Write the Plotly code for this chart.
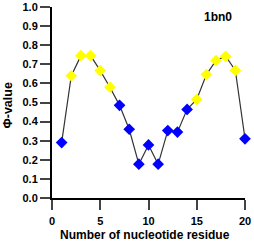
import plotly.graph_objects as go

residues = list(range(1, 21))
phi_values = [0.29, 0.64, 0.745, 0.745, 0.667, 0.58, 0.485, 0.36, 0.177, 0.278,
              0.177, 0.353, 0.345, 0.464, 0.516, 0.646, 0.72, 0.742, 0.668, 0.31]
point_class = ["b", "y", "y", "y", "y", "y", "b", "b", "b", "b",
               "b", "b", "b", "b", "y", "y", "y", "y", "y", "b"]
color_map = {"b": "#0000FF", "y": "#FFFF00"}
x_ticks = [0, 5, 10, 15, 20]
y_ticks = [round(i * 0.1, 1) for i in range(11)]
label_text = "1bn0"
x_title = "Number of nucleotide residue"
y_title = "Φ-value"

fig = go.Figure()
fig.add_trace(go.Scatter(
    x=residues, y=phi_values, mode="lines+markers",
    line=dict(color="#333333", width=1.2),
    marker=dict(symbol="diamond", size=9, color=[color_map[c] for c in point_class],
                line=dict(width=0)),
    cliponaxis=False, showlegend=False,
))

tick_font = dict(family="Liberation Sans", size=11, color="black", weight="bold")
fig.update_layout(
    width=254, height=243,
    margin=dict(l=52, r=9, t=7, b=45, autoexpand=False),
    paper_bgcolor="white", plot_bgcolor="white",
    font=dict(family="Liberation Sans, Arial, sans-serif", size=10, color="black"),
    xaxis=dict(range=[0, 20], tickvals=x_ticks, ticks="outside", ticklen=10, tickwidth=2,
               showline=True, linewidth=2, linecolor="black", showgrid=False, zeroline=False,
               automargin=False, tickfont=tick_font, ticklabelstandoff=2),
    yaxis=dict(range=[0, 1], tickvals=y_ticks, tickformat=".1f", ticks="outside", ticklen=10,
               tickwidth=2, showline=True, linewidth=2, linecolor="black", showgrid=False,
               zeroline=False, automargin=False, tickfont=tick_font, ticklabelstandoff=0),
    annotations=[
        dict(text="<b>" + label_text + "</b>", x=17.2, y=0.95, xref="x", yref="y",
             showarrow=False, font=dict(family="Liberation Sans", size=12, color="black")),
        dict(text="<b>" + x_title + "</b>", x=0.5, y=0, xref="paper", yref="paper",
             xanchor="center", yanchor="middle", xshift=-4, yshift=-37, showarrow=False,
             font=dict(family="Liberation Sans", size=12, color="black")),
        dict(text="<b>" + y_title + "</b>", x=0, y=0.5, xref="paper", yref="paper",
             xanchor="center", yanchor="middle", xshift=-45, yshift=-3, textangle=-90,
             showarrow=False, font=dict(family="Liberation Sans", size=12.5, color="black")),
    ],
)
fig.write_html("out.html", config={"displayModeBar": False},
               post_script="document.body.style.margin='0';document.body.style.overflow='hidden';")
